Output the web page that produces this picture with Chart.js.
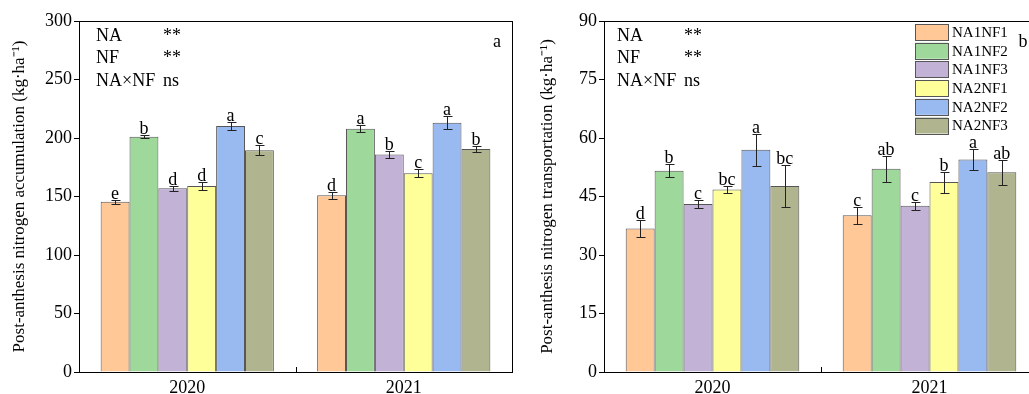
<!DOCTYPE html>
<html>
<head>
<meta charset="utf-8">
<script src="https://cdn.jsdelivr.net/npm/chart.js@4.4.0/dist/chart.umd.min.js"></script>
<style>
  html, body { margin: 0; padding: 0; background: #fff; overflow: hidden; width: 1029px; height: 394px; }
  .panel { position: absolute; top: 0; height: 394px; }
  #left { left: 0; width: 520px; }
  #right { left: 520px; width: 530px; }
</style>
</head>
<body>
<div class="panel" id="left"><canvas id="accum" width="520" height="394"></canvas></div>
<div class="panel" id="right"><canvas id="transp" width="530" height="394"></canvas></div>
<script>
// data
const years = ['2020', '2021'];
const treatments = ['NA1NF1', 'NA1NF2', 'NA1NF3', 'NA2NF1', 'NA2NF2', 'NA2NF3'];
const colors = ['#FFC896', '#9ED89B', '#C2B2D6', '#FFFF99', '#99B9F1', '#B0B48F'];

// panel a: post-anthesis N accumulation
const accumValues = [[145.6, 151.0], [201.1, 208.0], [157.0, 186.0], [159.0, 169.8], [210.3, 213.0], [189.5, 190.6]];
const accumErrors = [[1.8, 3.2], [1.5, 2.8], [2.4, 3.1], [3.4, 3.4], [3.5, 5.7], [4.1, 2.7]];
const accumLetters = [['e', 'd'], ['b', 'a'], ['d', 'b'], ['d', 'c'], ['a', 'a'], ['c', 'b']];

// panel b: post-anthesis N transportation
const transpValues = [[36.8, 40.2], [51.6, 52.1], [43.1, 42.6], [46.8, 48.7], [57.0, 54.5], [47.7, 51.2]];
const transpErrors = [[2.2, 2.2], [1.7, 3.4], [1.1, 1.1], [0.9, 2.7], [4.1, 2.7], [5.3, 3.2]];
const transpLetters = [['d', 'c'], ['b', 'ab'], ['c', 'c'], ['bc', 'b'], ['a', 'a'], ['bc', 'ab']];

const notes = [['NA', '**'], ['NF', '**'], ['NA×NF', 'ns']];

const serif = '"Liberation Serif", "Times New Roman", serif';

// error bars, letters, frame, notes and legend
const extras = {
    id: 'extras',
    afterDatasetsDraw(chart, args, opts) {
        const ctx = chart.ctx;
        const y = chart.scales.y;
        const x = chart.scales.x;
        const area = chart.chartArea;
        ctx.save();

        chart.data.datasets.forEach((ds, i) => {
            const meta = chart.getDatasetMeta(i);
            meta.data.forEach((bar, j) => {
                const v = ds.data[j];
                const e = opts.errors[i][j];
                const top = Math.round(y.getPixelForValue(v + e)) + 0.5;
                const bot = Math.round(y.getPixelForValue(v - e)) + 0.5;
                const cx = Math.round(bar.x) + 0.5;
                ctx.strokeStyle = '#222';
                ctx.lineWidth = 1;
                ctx.beginPath();
                ctx.moveTo(cx, top); ctx.lineTo(cx, bot);
                ctx.moveTo(cx - 4, top); ctx.lineTo(cx + 5, top);
                ctx.moveTo(cx - 4, bot); ctx.lineTo(cx + 5, bot);
                ctx.stroke();

                ctx.fillStyle = '#000';
                ctx.font = '18px ' + serif;
                ctx.textAlign = 'center';
                ctx.textBaseline = 'alphabetic';
                ctx.fillText(opts.letters[i][j], bar.x, top - 2);
            });
        });

        // box around plot
        ctx.strokeStyle = '#000';
        ctx.lineWidth = 1;
        ctx.strokeRect(Math.round(area.left) + 0.5, Math.round(area.top) + 0.5,
            Math.round(area.right - area.left), Math.round(area.bottom - area.top));

        // small inward tick between the two years
        const mid = Math.round((x.getPixelForValue(0) + x.getPixelForValue(1)) / 2) + 0.5;
        ctx.beginPath();
        ctx.moveTo(mid, area.bottom);
        ctx.lineTo(mid, area.bottom - 5);
        ctx.stroke();

        // significance notes
        ctx.fillStyle = '#000';
        ctx.font = '18px ' + serif;
        ctx.textAlign = 'left';
        ctx.textBaseline = 'middle';
        notes.forEach((n, k) => {
            const ny = area.top + 15 + k * 22.5;
            ctx.fillText(n[0], area.left + opts.noteX, ny);
            ctx.fillText(n[1], area.left + opts.noteX + 67, ny);
        });

        // panel letter
        ctx.textAlign = 'center';
        ctx.fillText(opts.panel, area.right - 15, area.top + 21);

        if (opts.legend) {
            const lx = area.left + 311;
            ctx.font = '15px ' + serif;
            chart.data.datasets.forEach((ds, i) => {
                const ly = area.top + 3 + i * 18.7;
                ctx.fillStyle = ds.backgroundColor;
                ctx.fillRect(lx, ly, 33, 16);
                ctx.strokeStyle = '#555';
                ctx.strokeRect(lx + 0.5, Math.round(ly) + 0.5, 33, 16);
                ctx.fillStyle = '#000';
                ctx.textAlign = 'left';
                ctx.fillText(ds.label, lx + 37, ly + 9);
            });
        }
        ctx.restore();
    }
};

function makeChart(id, values, errors, letters, yMax, yStep, title, axisWidth, titlePad, rightPad, extra) {
    const datasets = treatments.map((t, i) => ({
        label: t,
        data: values[i],
        backgroundColor: colors[i],
        borderColor: '#555',
        borderWidth: 1,
        categoryPercentage: 0.8,
        barPercentage: 1.0
    }));

    return new Chart(document.getElementById(id), {
        type: 'bar',
        data: { labels: years, datasets: datasets },
        plugins: [extras],
        options: {
            responsive: false,
            animation: false,
            layout: { padding: { top: 21, right: rightPad, left: 0, bottom: 0 } },
            plugins: {
                legend: { display: false },
                tooltip: { enabled: false },
                extras: Object.assign({ errors: errors, letters: letters }, extra)
            },
            scales: {
                x: {
                    grid: { display: false, drawTicks: false },
                    border: { display: true, color: '#000' },
                    ticks: { color: '#000', font: { family: serif, size: 18 }, padding: 5 },
                    afterFit(scale) { scale.height = 22; }
                },
                y: {
                    min: 0,
                    max: yMax,
                    ticks: { stepSize: yStep, color: '#000', font: { family: serif, size: 18 }, padding: 2 },
                    grid: { drawOnChartArea: false, drawTicks: true, tickLength: 5, color: '#000' },
                    border: { display: true, color: '#000' },
                    title: {
                        display: true,
                        text: title,
                        color: '#000',
                        font: { family: serif, size: 17, weight: 'normal' },
                        padding: { top: titlePad, bottom: 0 }
                    },
                    afterFit(scale) { scale.width = axisWidth; }
                }
            }
        }
    });
}

makeChart('accum', accumValues, accumErrors, accumLetters, 300, 50,
    'Post-anthesis nitrogen accumulation (kg·ha⁻¹)', 79, 9, 8,
    { panel: 'a', noteX: 17, legend: false });

makeChart('transp', transpValues, transpErrors, transpLetters, 90, 15,
    'Post-anthesis nitrogen transportation (kg·ha⁻¹)', 84, 17, 12,
    { panel: 'b', noteX: 13, legend: true });
</script>
</body>
</html>
